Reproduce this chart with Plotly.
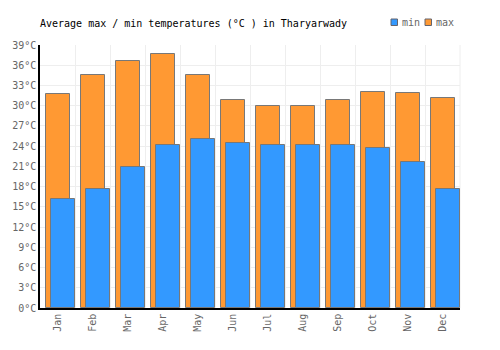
import plotly.graph_objects as go

months = ["Jan", "Feb", "Mar", "Apr", "May", "Jun", "Jul", "Aug", "Sep", "Oct", "Nov", "Dec"]
t_max = [31.8, 34.5, 36.7, 37.6, 34.6, 30.8, 30.0, 30.0, 30.9, 32.1, 31.9, 31.1]
t_min = [16.2, 17.6, 20.9, 24.1, 25.1, 24.4, 24.1, 24.1, 24.1, 23.8, 21.6, 17.7]
y_ticks = list(range(0, 40, 3))
y_labels = [f"{v}°C" for v in y_ticks]

font_family = "DejaVu Sans Mono"
edge = dict(color="rgb(120,120,120)", width=1)
c_min = "#3399FF"
c_max = "#FF9933"

fig = go.Figure()
fig.add_trace(go.Bar(
    x=months, y=t_max, name="max",
    marker=dict(color=c_max, line=edge),
    offset=-0.32, width=0.667, showlegend=False,
))
fig.add_trace(go.Bar(
    x=months, y=t_min, name="min",
    marker=dict(color=c_min, line=edge),
    offset=-0.176, width=0.68, showlegend=False,
))

W, H = 500, 350
L, R, T, B = 40, 40, 45, 42
PW, PH = W - L - R, H - T - B

fig.update_layout(
    width=W, height=H,
    margin=dict(l=L, r=R, t=T, b=B, autoexpand=False),
    paper_bgcolor="white", plot_bgcolor="white",
    barmode="overlay",
    font=dict(family=font_family, size=10, color="#666"),
    title=dict(
        text="Average max / min temperatures (°C ) in Tharyarwady",
        font=dict(family=font_family, size=10, color="black"),
        x=40 / W, xref="container", xanchor="left",
        y=1 - 23 / H, yref="container", yanchor="middle",
    ),
    showlegend=False,
    bargap=0,
)
fig.update_xaxes(
    type="category", range=[-0.5, 11.5], tickson="boundaries",
    showgrid=True, gridcolor="#eeeeee", gridwidth=1,
    showline=True, linecolor="black", linewidth=1.5,
    tickangle=-90, ticks="", tickfont=dict(size=10, color="#666"),
    automargin=False,
)
fig.update_yaxes(
    range=[0, 39], tickvals=y_ticks, ticktext=y_labels,
    showgrid=True, gridcolor="#eeeeee", gridwidth=1,
    showline=True, linecolor="black", linewidth=1.5,
    ticks="", zeroline=False, tickfont=dict(size=10, color="#666"),
    automargin=False,
)
# right border gridline
fig.add_shape(type="line", xref="paper", yref="paper", x0=1, x1=1, y0=0, y1=1,
              line=dict(color="#eeeeee", width=1), layer="below")

# compact legend (square swatch + label), top right
def py(pix):  # pixel row -> paper y
    return (H - B - pix) / PH

legend_items = [("min", c_min, 391), ("max", c_max, 425)]
for label, color, px in legend_items:
    fig.add_shape(type="rect", xref="paper", yref="paper",
                  x0=(px - L) / PW, x1=(px + 6.5 - L) / PW,
                  y0=py(25.5), y1=py(19),
                  fillcolor=color, line=dict(color="rgb(100,100,110)", width=1))
    fig.add_annotation(text=label, xref="paper", yref="paper",
                       x=(px + 8.5 - L) / PW, xanchor="left",
                       y=py(23), yanchor="middle",
                       showarrow=False, font=dict(family=font_family, size=10, color="#666"))

fig.write_html("out.html")
